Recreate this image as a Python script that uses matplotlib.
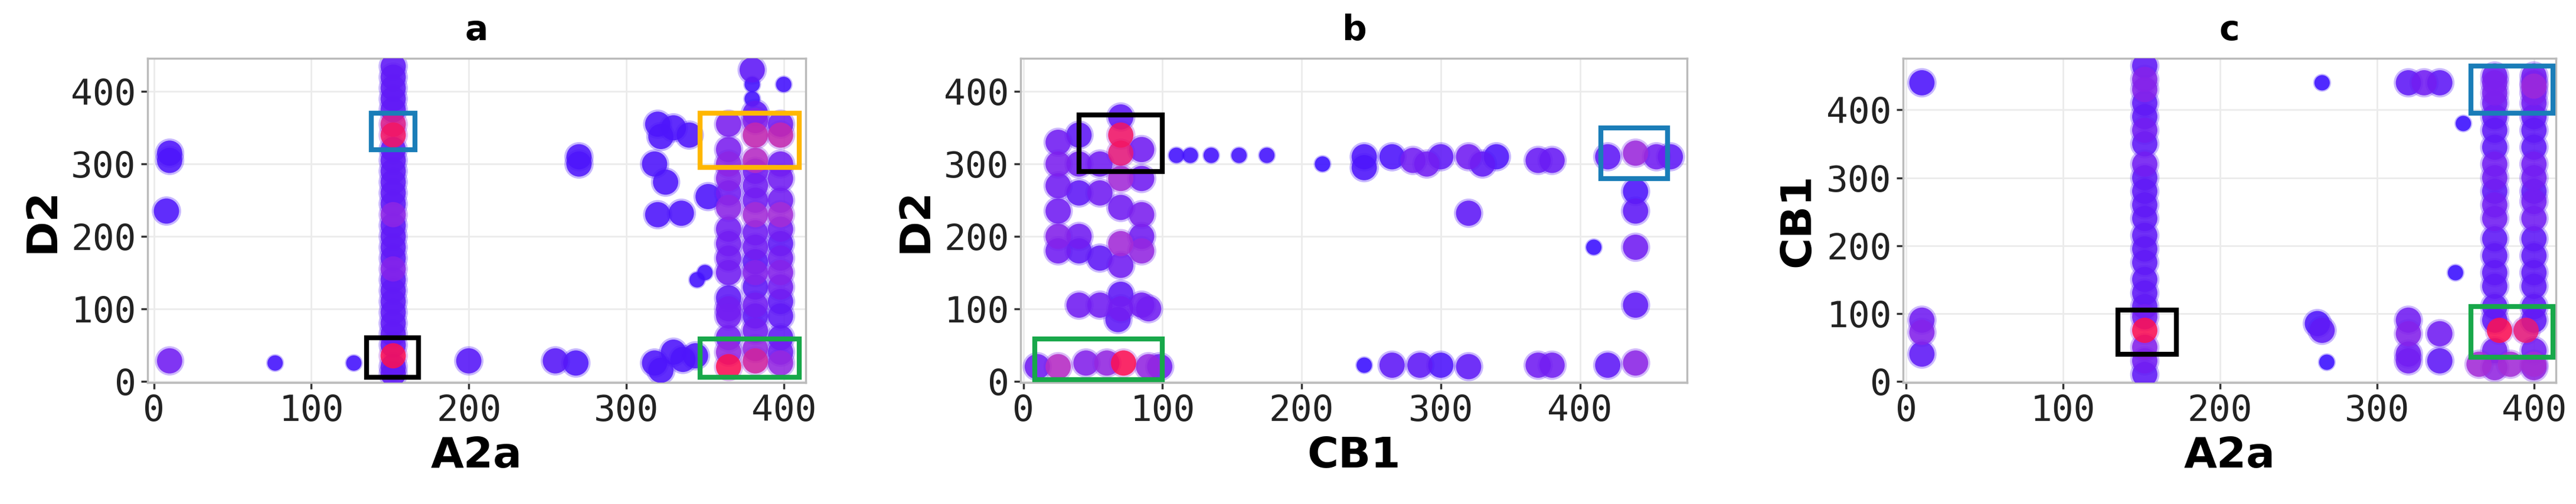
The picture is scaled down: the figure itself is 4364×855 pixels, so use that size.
import matplotlib
matplotlib.use("Agg")
import matplotlib.pyplot as plt
from matplotlib.colors import LinearSegmentedColormap
from matplotlib.patches import Rectangle
import numpy as np

# ---- panel a : A2a vs D2 ----
a_x = [152]*24 + [152,152,152,152,152] + [10,10,8,10,77,127,200,255,268,270,270] + \
      [320,330,340,322,318,325,335,320,330,318,322,336,344] + \
      [365]*16 + [382]*18 + [398]*16 + [380,380,380,400,352,350,345]
a_y = [435,420,405,390,375,320,305,290,275,260,245,215,200,185,170,140,125,110,95,80,65,50,20,10] + \
      [355,340,230,155,35] + [315,305,235,28,25,25,28,28,25,310,300] + \
      [355,350,340,338,300,275,232,230,40,25,15,30,35] + \
      [20,40,60,90,100,115,150,170,190,210,240,260,280,300,320,355] + \
      [28,45,70,90,105,130,150,165,185,205,230,250,270,290,305,340,360,370] + \
      [25,40,60,90,110,130,150,170,190,210,230,250,280,300,340,355] + [430,410,390,410,255,150,140]
a_v = [0.2]*24 + [0.85,0.95,0.45,0.4,1.0] + [0.1,0.1,0.1,0.3,0.05,0.05,0.15,0.15,0.1,0.1,0.1] + \
      [0.1]*13 + \
      [1.0,0.5,0.3,0.3,0.3,0.2,0.3,0.3,0.3,0.3,0.45,0.3,0.4,0.45,0.35,0.35] + \
      [0.8,0.5,0.3,0.2,0.3,0.2,0.4,0.2,0.3,0.3,0.6,0.3,0.3,0.3,0.7,0.75,0.4,0.2] + \
      [0.5,0.3,0.2,0.2,0.2,0.3,0.4,0.3,0.2,0.3,0.6,0.3,0.3,0.3,0.75,0.3] + [0.2,0.05,0.05,0.05,0.1,0.05,0.05]

# ---- panel b : CB1 vs D2 ----
b_x = [25,25,25,25,25,25,40,40,40,40,40,55,55,55,70,70,70,70,70,70,70,70,85,85,85,85,85,90,
       40,55,70,85,68, 10,25,45,60,72,90,98,
       110,120,135,155,175,215,
       245,245,265,280,290,300,320,330,340,370,380,420,440,455,465,
       440,440,440,440,410,320,
       245,265,285,300,320,370,380,420,440]
b_y = [330,300,270,235,200,180,340,300,260,200,180,300,260,170,340,315,280,240,190,160,120,365,320,280,230,180,200,100,
       105,105,100,105,85, 20,20,25,25,25,20,20,
       312,312,312,312,312,300,
       310,295,310,305,300,310,310,300,310,305,305,310,315,310,310,
       262,235,185,105,185,232,
       22,22,22,22,20,22,22,22,25]
b_v = [0.3,0.35,0.3,0.3,0.4,0.3,0.2,0.3,0.2,0.3,0.2,0.3,0.3,0.2,0.95,0.9,0.6,0.3,0.6,0.3,0.2,0.2,0.3,0.3,0.35,0.5,0.3,0.3,
       0.3,0.3,0.3,0.3,0.2, 0.3,0.7,0.4,0.5,1.0,0.5,0.3,
       0.05,0.05,0.05,0.05,0.05,0.0,
       0.1,0.1,0.1,0.3,0.3,0.2,0.3,0.2,0.1,0.25,0.25,0.2,0.55,0.3,0.2,
       0.1,0.2,0.3,0.2,0.0,0.2,
       0.0,0.2,0.2,0.1,0.2,0.3,0.3,0.2,0.45]

# ---- panel c : A2a vs CB1 ----
c_x = [152]*22 + [152] + \
      [10,10,10,10,265,265,262,268,320,330,340,320,320,320,320,340,340,355,350] + \
      [375]*20 + [400]*20 + [378,395,365,385,400,400]
c_y = [465,445,430,410,390,370,350,320,300,280,260,240,215,195,175,150,130,110,95,50,30,10] + [75] + \
      [440,90,72,40,440,75,85,28,440,440,440,90,70,40,30,70,30,380,160] + \
      [20,45,90,110,140,160,185,210,240,260,280,300,320,345,370,390,410,425,440,450] + \
      [20,45,90,110,140,160,185,210,240,265,280,300,320,345,370,390,410,425,440,450] + [75,75,25,25,25,435]
c_v = [0.2,0.4,0.4,0.2,0.2,0.3,0.2,0.3,0.2,0.2,0.2,0.2,0.2,0.2,0.2,0.2,0.2,0.2,0.3,0.4,0.3,0.2] + [1.0] + \
      [0.1,0.3,0.4,0.2,0.0,0.2,0.1,0.0,0.2,0.3,0.2,0.3,0.4,0.3,0.3,0.3,0.2,0.0,0.0] + \
      [0.5,0.3,0.2,0.2,0.2,0.2,0.2,0.2,0.3,0.3,0.2,0.3,0.3,0.2,0.2,0.2,0.3,0.35,0.35,0.3] + \
      [0.5,0.3,0.2,0.2,0.2,0.2,0.2,0.2,0.3,0.3,0.2,0.3,0.3,0.2,0.2,0.2,0.3,0.35,0.35,0.3] + [1.0,0.9,0.6,0.6,0.6,0.55]

boxes_a = [(138,320,28,50,'#1a7db8'),(135,5,33,55,'black'),(347,295,63,75,'#ffb700'),(347,5,63,53,'#18a84a')]
boxes_b = [(40,290,60,78,'black'),(8,2,92,56,'#18a84a'),(415,280,48,70,'#1a7db8')]
boxes_c = [(135,40,37,65,'black'),(360,395,52,70,'#1a7db8'),(360,35,52,75,'#18a84a')]

cmap = LinearSegmentedColormap.from_list('bpr', ['#3b10ff', '#7a20f0', '#b030d0', '#ff1050'])

W, H = 4364, 855
fig = plt.figure(figsize=(W/100, H/100), dpi=100)
specs = [
    ([250/W, 1-649/H, 1115/W, 550/H], a_x, a_y, a_v, boxes_a, 'a', 'A2a', 'D2', (-4, 414), (-2, 446)),
    ([1729/W, 1-649/H, 1129/W, 550/H], b_x, b_y, b_v, boxes_b, 'b', 'CB1', 'D2', (-2, 477), (-2, 446)),
    ([3224/W, 1-649/H, 1106/W, 550/H], c_x, c_y, c_v, boxes_c, 'c', 'A2a', 'CB1', (-2, 414), (-2, 476)),
]
for rect, xs, ys, vs, boxes, title, xl, yl, xlim, ylim in specs:
    ax = fig.add_axes(rect)
    xs = np.array(xs); ys = np.array(ys); vs = np.array(vs)
    order = np.argsort(vs, kind='stable')
    xs, ys, vs = xs[order], ys[order], vs[order]
    sizes = np.where(vs <= 0.05, 350, 950)
    ax.scatter(xs, ys, s=sizes*1.35, c=cmap(vs*0.6), alpha=0.3, linewidths=0, zorder=2)
    ax.scatter(xs, ys, s=sizes, c=cmap(vs), alpha=0.85, linewidths=0, zorder=3)
    for (bx, by, bw, bh, col) in boxes:
        ax.add_patch(Rectangle((bx, by), bw, bh, fill=False, edgecolor=col, linewidth=6, zorder=5))
    ax.set_xlim(*xlim); ax.set_ylim(*ylim)
    ax.set_xticks([0, 100, 200, 300, 400]); ax.set_yticks([0, 100, 200, 300, 400])
    ax.grid(True, color='#ebebeb', linewidth=2, zorder=0)
    ax.set_axisbelow(True)
    for sp in ax.spines.values():
        sp.set_color('#bbbbbb'); sp.set_linewidth(2.5)
    ax.tick_params(colors='#333333', labelsize=44, length=8, width=2.5, pad=6)
    for lab in ax.get_xticklabels() + ax.get_yticklabels():
        lab.set_family('DejaVu Sans Mono'); lab.set_color('#222222')
    ax.set_xlabel(xl, fontsize=52, fontweight='bold', labelpad=8)
    ax.set_ylabel(yl, fontsize=52, fontweight='bold', labelpad=10)
    ax.set_title(title, fontsize=42, fontweight='bold', pad=22)
fig.savefig('out.png', dpi=100)
